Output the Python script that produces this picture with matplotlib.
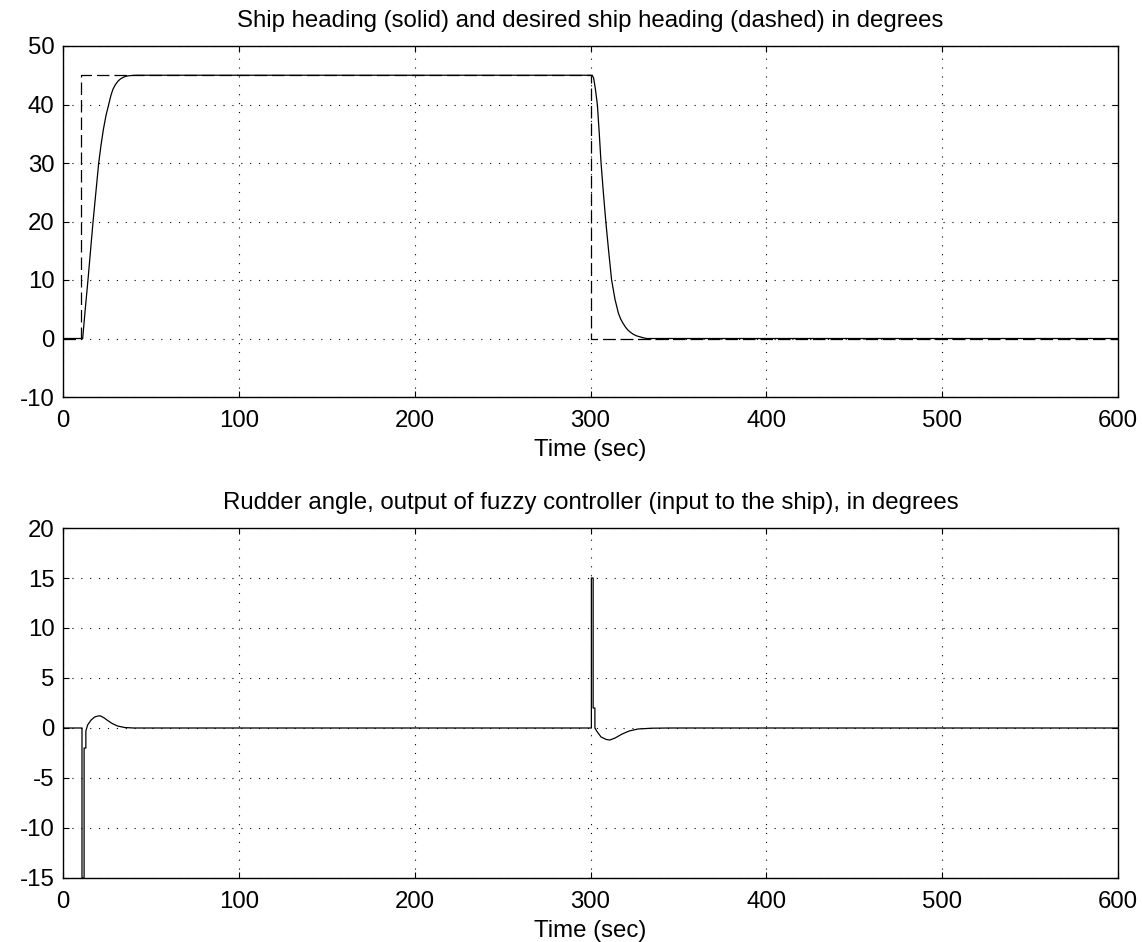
import matplotlib
matplotlib.use("Agg")
import matplotlib.pyplot as plt

plt.rcParams['font.family'] = ['Liberation Sans', 'DejaVu Sans']

# ---- Data ----
heading_t = [0, 11.2, 12.5, 14.2, 17.1, 20.3, 21.6, 23.0, 24.5, 26.0, 27.2, 28.4, 29.8,
             31.3, 32.6, 34.0, 35.5, 37.0, 39.5, 42.7,
             301.0, 301.8, 302.8, 303.9, 305.0, 306.0, 307.3, 308.7, 310.3, 312.0,
             314.0, 315.9, 317.2, 318.5, 320.0, 321.4, 323.0, 324.5, 326.2, 328.0,
             330.0, 332.0, 600]
heading_v = [0, 0, 4.5, 10, 20, 30, 33.0, 35.8, 38.2, 40, 41.5, 42.6, 43.4,
             44.0, 44.35, 44.6, 44.8, 44.9, 44.97, 45,
             45, 44.5, 42.6, 40, 35, 30, 25, 20, 15, 10,
             6.6, 4.3, 3.3, 2.6, 1.9, 1.4, 1.0, 0.7, 0.45, 0.3,
             0.12, 0, 0]

desired_t = [0, 10, 10, 300, 300, 600]
desired_v = [0, 0, 45, 45, 0, 0]

rudder_t = [0, 10.8, 10.8, 12.0, 12.0, 13.0, 13.0, 14.0, 16.0, 18.0, 20.0, 21.0, 22.0,
            23.5, 25.0, 26.5, 28.0, 31.0, 35.0, 40.0,
            300.5, 300.5, 301.5, 301.5, 302.5, 302.5, 303.5, 306.0, 309.0, 311.0, 314.0,
            318.0, 322.0, 327.0, 335.0, 345.0, 600]
rudder_v = [0, 0, -15, -15, -2, -2, -0.3, 0.3, 0.8, 1.1, 1.2, 1.22, 1.15,
            1.0, 0.8, 0.62, 0.45, 0.2, 0.05, 0,
            0, 15, 15, 2, 2, 0, -0.3, -0.9, -1.15, -1.2, -1.0,
            -0.6, -0.3, -0.1, -0.02, 0, 0]

xticks = [0, 100, 200, 300, 400, 500, 600]
top_yticks = [-10, 0, 10, 20, 30, 40, 50]
bot_yticks = [-15, -10, -5, 0, 5, 10, 15, 20]

top_title = "Ship heading (solid) and desired ship heading (dashed) in degrees"
bot_title = "Rudder angle, output of fuzzy controller (input to the ship), in degrees"
xlabel = "Time (sec)"

# ---- Figure ----
fig = plt.figure(figsize=(11.42, 9.42), dpi=100)
W, H = 1142, 942
ax1 = fig.add_axes([63 / W, 1 - 397 / H, (1118 - 63) / W, (397 - 46) / H])
ax2 = fig.add_axes([63 / W, 1 - 878 / H, (1118 - 63) / W, (878 - 528) / H])

FS = 17.3

def style(ax, yticks, title):
    ax.set_xlim(0, 600)
    ax.set_ylim(yticks[0], yticks[-1])
    ax.set_xticks(xticks)
    ax.set_yticks(yticks)
    ax.set_xticklabels([str(v) for v in xticks])
    ax.set_yticklabels([str(v) for v in yticks])
    ax.tick_params(direction='in', length=4, width=0.8, top=True, right=True,
                   labelsize=FS, colors='black')
    ax.tick_params(axis='x', pad=9.5)
    ax.tick_params(axis='y', pad=6)
    ax.grid(True, color='black', linestyle=(0, (1, 7)), linewidth=0.8)
    for s in ax.spines.values():
        s.set_linewidth(1.0)
        s.set_color('black')
    ax.set_title(title, fontsize=FS, pad=14)
    ax.set_xlabel(xlabel, fontsize=FS, labelpad=5)

ax1.plot(desired_t, desired_v, color='black', linewidth=0.9, dashes=(10, 4))
ax1.plot(heading_t, heading_v, color='black', linewidth=0.9)
style(ax1, top_yticks, top_title)

ax2.plot(rudder_t, rudder_v, color='black', linewidth=0.9)
style(ax2, bot_yticks, bot_title)

fig.savefig("out.png", dpi=100)
